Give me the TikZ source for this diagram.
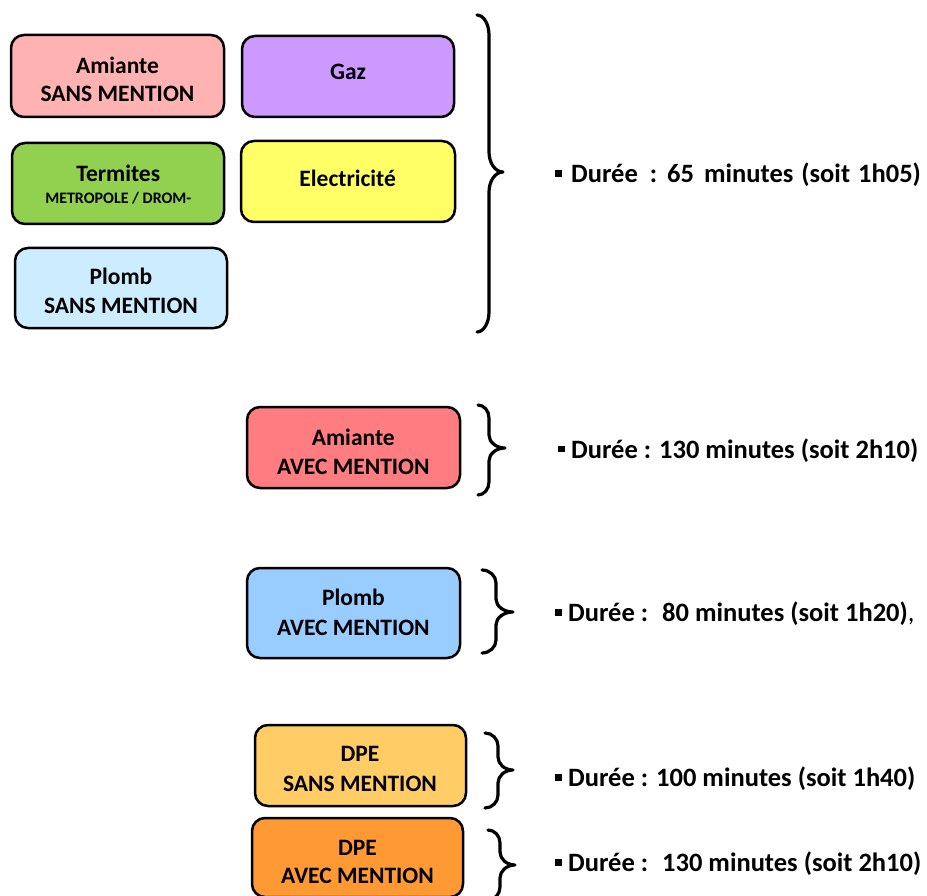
\documentclass[tikz,border=0pt]{standalone}
\usepackage{fontspec}
\setmainfont{Carlito}
\definecolor{cAmS}{HTML}{FFB2B2}
\definecolor{cGaz}{HTML}{CC99FF}
\definecolor{cTerm}{HTML}{92D050}
\definecolor{cElec}{HTML}{FFFF66}
\definecolor{cPbS}{HTML}{CCECFF}
\definecolor{cAmA}{HTML}{FF7C80}
\definecolor{cPbA}{HTML}{99CCFF}
\definecolor{cDpeS}{HTML}{FFCC66}
\definecolor{cDpeA}{HTML}{FF9933}
\newcommand{\mybrace}[7]{%
  \draw[bracestyle] (#1,#4) .. controls ({#1+0.55*(#2-#1)},#4) and (#2,{#4+0.45*#7}) .. (#2,{#4+#7})
    -- (#2,{#5-#7}) .. controls (#2,{#5-0.45*#7}) and ({#2+0.45*(#3-#2)},#5) .. (#3,#5)
    .. controls ({#2+0.45*(#3-#2)},#5) and (#2,{#5+0.45*#7}) .. (#2,{#5+#7})
    -- (#2,{#6-#7}) .. controls (#2,{#6-0.45*#7}) and ({#1+0.55*(#2-#1)},#6) .. (#1,#6);}
\newcommand{\sqbul}{\rule[6pt]{6.5pt}{6.5pt}}
\begin{document}
\begin{tikzpicture}[x=1pt,y=-1pt,
  box/.style={draw=black, line width=2.5pt, rounded corners=13pt, inner sep=0pt},
  btxt/.style={anchor=base, inner sep=0pt, font=\fontsize{23.5}{28}\selectfont\bfseries},
  bsmall/.style={anchor=base, inner sep=0pt, font=\fontsize{16}{19}\selectfont\bfseries},
  dtxt/.style={anchor=base west, inner sep=0pt, font=\fontsize{26.5}{32}\selectfont\bfseries},
  bracestyle/.style={draw=black, line width=3.2pt, line join=round, line cap=round}]
\clip (0,0) rectangle (927,896);
\fill[white] (0,0) rectangle (927,896);
% boxes
\node[box, fill=cAmS, minimum width=213pt, minimum height=82pt] (b1) at (117.5,76) {};
\node[box, fill=cGaz, minimum width=212pt, minimum height=81pt] (b2) at (348,76.5) {};
\node[box, fill=cTerm, minimum width=212pt, minimum height=81pt] (b3) at (118,183.5) {};
\node[box, fill=cElec, minimum width=214pt, minimum height=81pt] (b4) at (348,181.5) {};
\node[box, fill=cPbS, minimum width=212pt, minimum height=80pt] (b5) at (121,288) {};
\node[box, fill=cAmA, minimum width=213pt, minimum height=81pt] (b6) at (353.5,447.5) {};
\node[box, fill=cPbA, minimum width=213pt, minimum height=90pt] (b7) at (353.5,613) {};
\node[box, fill=cDpeS, minimum width=211pt, minimum height=81pt] (b8) at (360.5,765.5) {};
\node[box, fill=cDpeA, minimum width=211pt, minimum height=79pt] (b9) at (357.5,857.5) {};
% box texts
\node[btxt] (t1a) at (117.5,73.3) {Amiante};
\node[btxt] (t1b) at (117.5,101.7) {SANS MENTION};
\node[btxt] (t2a) at (348,80) {Gaz};
\node[btxt] (t3a) at (118.3,181.7) {Termites};
\node[bsmall] (t3b) at (118.3,203.3) {METROPOLE / DROM-};
\node[btxt] (t4a) at (347.7,186.7) {Electricité};
\node[btxt] (t5a) at (121,285) {Plomb};
\node[btxt] (t5b) at (121,313.3) {SANS MENTION};
\node[btxt] (t6a) at (353.3,445) {Amiante};
\node[btxt] (t6b) at (353.3,474) {AVEC MENTION};
\node[btxt] (t7a) at (353.4,605) {Plomb};
\node[btxt] (t7b) at (353.4,635) {AVEC MENTION};
\node[btxt] (t8a) at (360,761.7) {DPE};
\node[btxt] (t8b) at (360,791.7) {SANS MENTION};
\node[btxt] (t9a) at (357.5,855) {DPE};
\node[btxt] (t9b) at (357.5,883.3) {AVEC MENTION};
% braces
\mybrace{477}{489}{503}{15}{172}{332}{20}
\mybrace{478}{489}{505}{405}{448}{495}{13}
\mybrace{482}{496}{513}{570}{612}{653}{13}
\mybrace{485}{498}{513}{733}{770}{808}{13}
\mybrace{488}{500}{515}{830}{865}{900}{13}
% durations
\node[dtxt] (d1) at (555,183) {\sqbul\hspace{9.5pt}Durée\hspace{12pt}:\hspace{10pt}65\hspace{10pt}minutes\hspace{8pt}(soit\hspace{8pt}1h05)};
\node[dtxt] (d2) at (558,458) {\sqbul\hspace{6.5pt}Durée : 130 minutes (soit 2h10)};
\node[dtxt] (d3) at (555,621.7) {\sqbul\hspace{6.5pt}Durée :\hspace{6pt} 80 minutes (soit 1h20){\mdseries ,}};
\node[dtxt] (d4) at (555,786.7) {\sqbul\hspace{6.5pt}Durée : 100 minutes (soit 1h40)};
\node[dtxt] (d5) at (555,871.7) {\sqbul\hspace{6.5pt}Durée :\hspace{6pt} 130 minutes (soit 2h10)};
\end{tikzpicture}
\end{document}
